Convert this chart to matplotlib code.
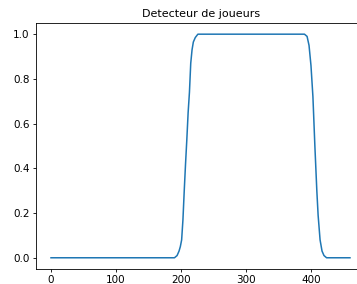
import matplotlib
matplotlib.use("Agg")
import matplotlib.pyplot as plt

# values
frames = [0, 100, 190, 194, 197, 199, 201, 203, 205, 207, 209, 211, 213, 215, 217, 219, 222, 226,
          300, 390, 394, 397, 400, 403, 406, 409, 411, 414, 417, 420, 424, 460]
detection = [0.0, 0.0, 0.0, 0.01, 0.03, 0.05, 0.08, 0.17, 0.30, 0.42, 0.53, 0.65, 0.74, 0.87, 0.93, 0.965, 0.985, 1.0,
             1.0, 1.0, 0.99, 0.95, 0.86, 0.72, 0.50, 0.30, 0.19, 0.08, 0.03, 0.01, 0.0, 0.0]
x_ticks = [0, 100, 200, 300, 400]
y_ticks = [0.0, 0.2, 0.4, 0.6, 0.8, 1.0]

fig = plt.figure(figsize=(3.57, 2.84), dpi=100)
ax = fig.add_axes([0.101, 0.053, 0.923, 0.866])

ax.plot(frames, detection, color='tab:blue', linewidth=1.1)
ax.set_title('Detecteur de joueurs', fontsize=8, pad=4)
ax.set_xticks(x_ticks)
ax.set_yticks(y_ticks)
ax.set_xlim(-23, 484)
ax.set_ylim(-0.05, 1.05)
ax.tick_params(labelsize=7.5, length=2.5, width=0.6, pad=2)
for s in ax.spines.values():
    s.set_linewidth(0.6)

fig.savefig('out.png', dpi=100)
